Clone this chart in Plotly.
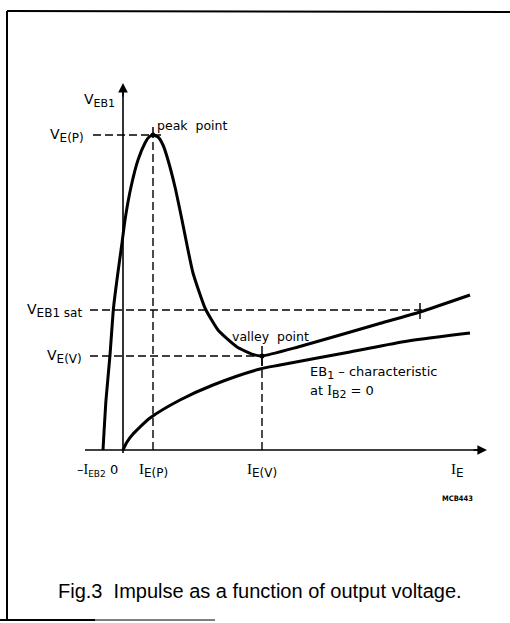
import plotly.graph_objects as go

# ---- data (arbitrary units: I_E horizontally, V_EB1 vertically) ----
# UJT input characteristic (with I_B2 flowing)
ujt_ie = [-2.0, -1.7, -1.3, -0.95, -0.5, -0.1, 0.2, 0.8, 1.5, 2.2, 2.6, 3.0, 3.5, 4.0, 4.5, 5.2, 5.9, 6.5, 7.0, 8.2, 9.5, 11.4, 13.0, 13.9, 17.5, 21.7, 25.5, 29.7, 34.7]
ujt_v  = [0.0, 5.0, 9.5, 14.2, 17.8, 20.7, 23.0, 26.3, 29.0, 30.7, 31.3, 31.5, 31.3, 30.5, 29.0, 26.3, 23.0, 20.0, 17.7, 14.2, 12.0, 10.3, 9.55, 9.4, 10.3, 11.5, 12.6, 13.8, 15.5]

# EB1 characteristic at I_B2 = 0
eb1_ie = [0.0, 0.4, 1.0, 1.7, 2.7, 5.7, 9.0, 13.7, 15.7, 22.7, 28.5, 34.7]
eb1_v  = [0.0, 0.8, 1.6, 2.3, 3.2, 5.0, 6.5, 8.1, 8.5, 9.8, 10.9, 11.7]

# characteristic points
ie_p, v_p = 3.0, 31.5        # peak point
ie_v, v_v = 13.9, 9.4        # valley point
v_sat = 14.0                 # V_EB1 sat level
ie_sat = 29.7                # where sat line meets characteristic
x_axis_end = 36.4
y_axis_end = 36.7
dash_left = -3.3

# ---- figure ----
BLACK = "#000000"
FONT = "DejaVu Sans"
fig = go.Figure()

def line(xs, ys, width=1.4, dash=None):
    fig.add_trace(go.Scatter(x=xs, y=ys, mode="lines", hoverinfo="skip",
                             line=dict(color=BLACK, width=width, dash=dash), showlegend=False))

DASH = "8px,4px"
# dashed helper lines
line([dash_left + 0.3, ie_p + 0.9], [v_p, v_p], dash=DASH)
line([ie_p, ie_p], [0, v_p], dash=DASH)
line([dash_left, ie_sat + 0.8], [v_sat, v_sat], dash=DASH)
line([dash_left, ie_v], [v_v, v_v], dash=DASH)
line([ie_v, ie_v], [0, v_v], dash=DASH)

# small solid ticks at points
line([ie_p, ie_p], [v_p, v_p + 0.8], width=1.5)
line([ie_v, ie_v], [v_v - 1.0, v_v + 1.0], width=1.5)
line([ie_sat, ie_sat], [v_sat - 0.9, v_sat + 0.7], width=1.5)

# axes lines
line([-3.8, x_axis_end - 0.6], [0, 0], width=1.6)
line([0, 0], [-0.3, y_axis_end - 0.6], width=1.6)

# curves
fig.add_trace(go.Scatter(x=ujt_ie, y=ujt_v, mode="lines", hoverinfo="skip", showlegend=False,
                         line=dict(color=BLACK, width=3, shape="spline", smoothing=0.5)))
fig.add_trace(go.Scatter(x=eb1_ie, y=eb1_v, mode="lines", hoverinfo="skip", showlegend=False,
                         line=dict(color=BLACK, width=3, shape="spline", smoothing=0.8)))
fig.add_trace(go.Scatter(x=[ie_p, ie_v], y=[v_p, v_v], mode="markers", hoverinfo="skip",
                         showlegend=False, marker=dict(color=BLACK, size=5)))

# arrow heads
fig.add_annotation(x=x_axis_end, y=0, ax=x_axis_end - 1.5, ay=0, xref="x", yref="y",
                   axref="x", ayref="y", text="", showarrow=True, arrowhead=2,
                   arrowsize=1.2, arrowwidth=1.6, arrowcolor=BLACK)
fig.add_annotation(x=0, y=y_axis_end, ax=0, ay=y_axis_end - 1.5, xref="x", yref="y",
                   axref="x", ayref="y", text="", showarrow=True, arrowhead=2,
                   arrowsize=1.2, arrowwidth=1.6, arrowcolor=BLACK)

def label(x, y, text, xanchor="left", size=12, family=FONT, yanchor="middle"):
    fig.add_annotation(x=x, y=y, xref="x", yref="y", text=text, showarrow=False,
                       xanchor=xanchor, yanchor=yanchor,
                       font=dict(family=family, size=size, color=BLACK))

def sub(t, size):
    return '<sub><span style="font-size:%dpx">%s</span></sub>' % (size, t)

def serif_i(size=14):
    return '<span style="font-family:Liberation Serif;font-size:%dpx">I</span>' % size

label(-0.6, 35.0, "V" + sub("EB1", 11), xanchor="right", size=14)
label(-3.7, v_p, "V" + sub("E(P)", 12), xanchor="right", size=14)
label(-3.9, v_sat, "V" + sub("EB1 sat", 12), xanchor="right", size=14)
label(-3.9, v_v, "V" + sub("E(V)", 12), xanchor="right", size=14)
label(ie_p + 0.2, 32.5, "peak\u00a0 point", size=12.5)
label(10.7, 11.4, "valley\u00a0 point", size=12.5)
label(18.5, 7.7, "EB" + sub("1", 11) + " \u2013 characteristic", size=13)
label(18.5, 5.8, "at " + serif_i(14) + sub("B2", 11) + " = 0", size=13)

label(-0.3, -2.0, "\u2013" + serif_i(14) + sub("EB2", 9) + " 0", xanchor="right", size=13)
label(ie_p, -2.0, serif_i(15) + sub("E(P)", 12), xanchor="center", size=13)
label(ie_v, -2.0, serif_i(15) + sub("E(V)", 12), xanchor="center", size=13)
label(33.4, -2.0, serif_i(15) + sub("E", 12), xanchor="center", size=13)
label(33.4, -4.8, "<b>MCB443</b>", xanchor="center", size=7.5,
      family="DejaVu Sans Condensed, Liberation Sans")

fig.add_annotation(x=260 / 510, y=1 - 591 / 623, xref="paper", yref="paper",
                   text="Fig.3\u00a0 Impulse as a function of output voltage.", showarrow=False,
                   xanchor="center", yanchor="middle",
                   font=dict(family="Liberation Sans", size=20, color=BLACK))

# border (paper coordinates)
def pline(x0, y0, x1, y1, w=2):
    fig.add_shape(type="line", xref="paper", yref="paper",
                  x0=x0 / 510, y0=1 - y0 / 623, x1=x1 / 510, y1=1 - y1 / 623,
                  line=dict(color=BLACK, width=w))
pline(7, 11, 510, 12)
pline(7, 11, 7, 620)
pline(0, 620, 95, 620)
pline(95, 620, 215, 620, w=1)

fig.update_layout(
    width=510, height=623,
    margin=dict(l=0, r=0, t=0, b=0),
    paper_bgcolor="white", plot_bgcolor="white",
    xaxis=dict(range=[-12.3, 38.7], visible=False, fixedrange=True),
    yaxis=dict(range=[-17.3, 45.0], visible=False, fixedrange=True),
    showlegend=False,
)

fig.write_html("out.html", config={"displayModeBar": False},
               post_script="document.body.style.margin='0px';")
